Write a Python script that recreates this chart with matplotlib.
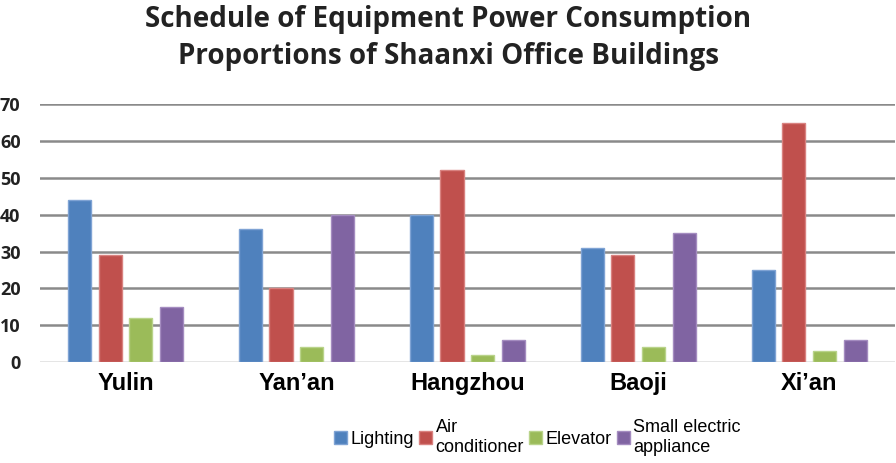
import matplotlib.pyplot as plt
import numpy as np

cities = ["Yulin", "Yan\u2019an", "Hangzhou", "Baoji", "Xi\u2019an"]
lighting = [44, 36, 40, 31, 25]
air_conditioner = [29, 20, 52, 29, 65]
elevator = [12, 4, 2, 4, 3]
small_appliance = [15, 40, 6, 35, 6]

series = [lighting, air_conditioner, elevator, small_appliance]
labels = ["Lighting", "Air\nconditioner", "Elevator", "Small electric\nappliance"]
colors = ["#4F81BD", "#C0504D", "#9BBB59", "#8064A2"]
edges = ["#7FA3D4", "#D98280", "#B9D38A", "#A48CC0"]

fig = plt.figure(figsize=(8.96, 4.63), dpi=100)
ax = fig.add_axes([0.0446, 0.218, 0.954, 0.557])

x = np.arange(len(cities))
step = 0.18
width = 0.135
for k, vals in enumerate(series):
    ax.bar(x + (k - 1.5) * step, vals, width, color=colors[k], edgecolor=edges[k],
           linewidth=1, label=labels[k], zorder=3)

ax.set_xlim(-0.5, len(cities) - 0.5)
ax.set_ylim(0, 70)
ax.set_yticks(range(0, 71, 10))
ax.yaxis.grid(True, color="#8a8a8a", linewidth=1.8, zorder=0)
ax.get_ygridlines()[0].set_color("#dddddd")
for s in ax.spines.values():
    s.set_visible(False)
ax.tick_params(axis="both", length=0)
ax.tick_params(axis="y", pad=14)
ax.set_xticks(x)
ax.set_xticklabels(cities, fontsize=17, fontweight="bold", family="Liberation Sans")
ax.tick_params(axis="x", pad=7)
for t in ax.get_yticklabels():
    t.set_fontsize(13)
    t.set_fontweight("bold")
    t.set_family("Open Sans")
    t.set_color("#222222")

fig.text(0.5, 0.99, "Schedule of Equipment Power Consumption\nProportions of Shaanxi Office Buildings",
         ha="center", va="top", fontsize=20, fontweight="bold", family="Open Sans",
         color="#222222", linespacing=1.4)

leg = fig.legend(loc="center", bbox_to_anchor=(0.6, 0.055), ncol=4, frameon=False,
                 prop={"family": "Liberation Sans", "size": 13}, handlelength=0.7,
                 handleheight=0.7, handletextpad=0.2, columnspacing=0.3,
                 labelspacing=0.1)

fig.savefig("out.png", dpi=100)
